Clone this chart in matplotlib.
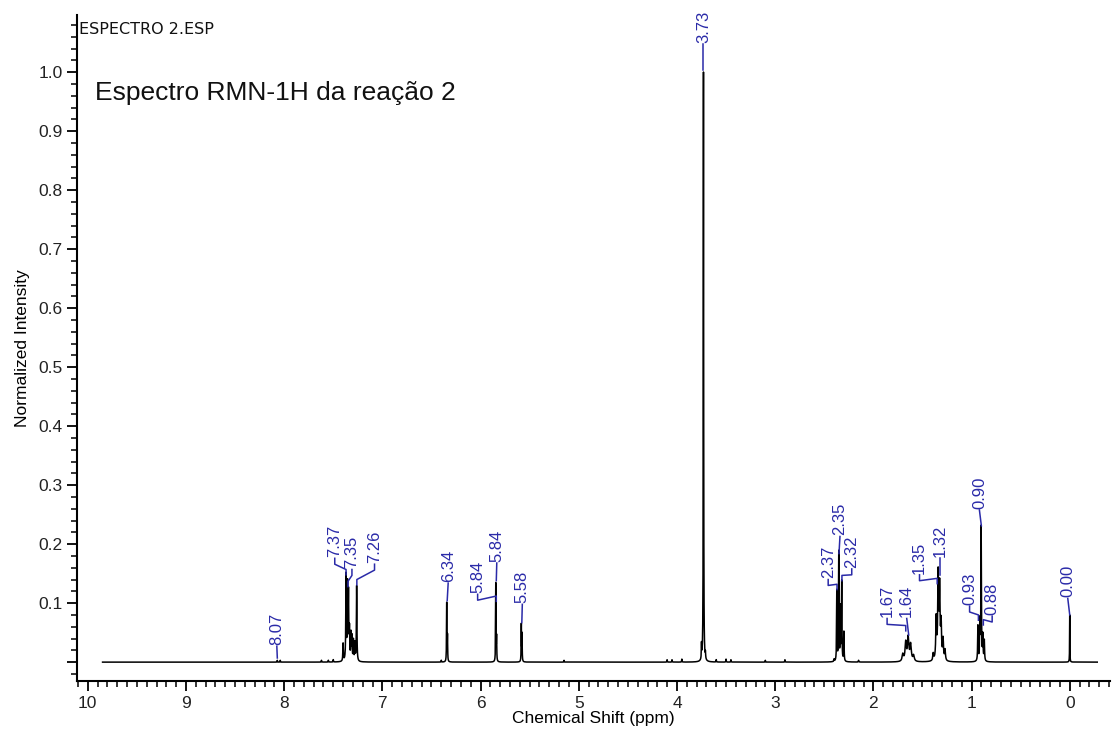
import matplotlib
matplotlib.use("Agg")
import matplotlib.pyplot as plt
import numpy as np
from matplotlib.ticker import MultipleLocator

# peak list (ppm, normalized height, half width in ppm)
peak_ppm = [8.07, 8.04, 7.62, 7.55, 7.50,
            7.40, 7.37, 7.355, 7.345, 7.335, 7.32, 7.31, 7.295, 7.28, 7.262,
            6.40, 6.345, 6.337, 5.845, 5.837, 5.585, 5.578, 5.15,
            4.10, 4.05, 3.95, 3.75, 3.73, 3.71, 3.60, 3.50, 3.45, 3.10, 2.90,
            2.40, 2.372, 2.352, 2.335, 2.322, 2.30, 2.15,
            1.70, 1.67, 1.645, 1.62, 1.59,
            1.39, 1.36, 1.34, 1.325, 1.31, 1.29, 1.27,
            0.935, 0.915, 0.902, 0.885, 0.87,
            0.0]
peak_height = [0.003, 0.003, 0.003, 0.003, 0.004,
               0.03, 0.145, 0.125, 0.11, 0.05, 0.045, 0.04, 0.035, 0.03, 0.128,
               0.003, 0.10, 0.043, 0.134, 0.04, 0.063, 0.046, 0.003,
               0.004, 0.004, 0.005, 0.025, 1.0, 0.01, 0.004, 0.005, 0.004, 0.003, 0.004,
               0.004, 0.12, 0.185, 0.09, 0.134, 0.05, 0.003,
               0.012, 0.032, 0.04, 0.028, 0.01,
               0.012, 0.07, 0.143, 0.12, 0.06, 0.035, 0.018,
               0.06, 0.065, 0.227, 0.042, 0.035,
               0.08]
peak_width = [0.002] * 5 + [0.003] * 10 + [0.002] * 8 + [0.002] * 11 + [0.0025] * 7 \
    + [0.008] * 5 + [0.005] * 7 + [0.003] * 5 + [0.0015]

# peak labels: text, peak position, label position, label bottom, leader end
label_text = ["8.07", "7.37", "7.35", "7.26", "6.34", "5.84", "5.84", "5.58", "3.73",
              "2.37", "2.35", "2.32", "1.67", "1.64", "1.35", "1.32", "0.93", "0.90",
              "0.88", "0.00"]
label_peak = [8.07, 7.37, 7.35, 7.26, 6.34, 5.84, 5.84, 5.58, 3.73,
              2.37, 2.35, 2.32, 1.67, 1.64, 1.35, 1.32, 0.93, 0.90, 0.88, 0.00]
label_x = [8.075, 7.485, 7.31, 7.08, 6.33, 6.03, 5.835, 5.575, 3.73,
           2.46, 2.34, 2.22, 1.86, 1.66, 1.53, 1.32, 1.02, 0.92, 0.79, 0.02]
label_y = [0.029, 0.178, 0.159, 0.168, 0.136, 0.117, 0.170, 0.100, 1.050,
           0.142, 0.215, 0.160, 0.076, 0.076, 0.150, 0.178, 0.097, 0.260, 0.080, 0.110]
leader_end = [0.003, 0.145, 0.125, 0.128, 0.100, 0.100, 0.134, 0.063, 1.0,
              0.120, 0.180, 0.135, 0.050, 0.042, 0.130, 0.144, 0.068, 0.227, 0.060, 0.076]

x = np.arange(-0.28, 9.85, 0.0004)
y = np.zeros_like(x)
for p, h, w in zip(peak_ppm, peak_height, peak_width):
    y += h * w**2 / ((x - p)**2 + w**2)

plt.rcParams['font.family'] = ['Liberation Sans', 'DejaVu Sans']
fig = plt.figure(figsize=(11.12, 7.31), dpi=100)
ax = fig.add_axes([77/1112, 1-681/731, (1110-77)/1112, (681-15)/731])
ax.plot(x, y, color='black', lw=1.1)

lab_col = '#2a2aa8'
for t, p, lx, ty, ye in zip(label_text, label_peak, label_x, label_y, leader_end):
    if abs(lx - p) < 0.03:
        ax.plot([lx, p], [ty - 0.002, ye + 0.004], color=lab_col, lw=1.1)
    else:
        ax.plot([lx, lx, p, p], [ty - 0.002, ty - 0.012, ye + 0.012, ye + 0.003],
                color=lab_col, lw=1.1)
    ax.text(lx, ty, t, rotation=90, ha='center', va='bottom', fontsize=12, color=lab_col)

ax.set_xlim(10.11, -0.41)
ax.set_ylim(-0.032, 1.097)
ax.xaxis.set_minor_locator(MultipleLocator(0.1))
ax.yaxis.set_minor_locator(MultipleLocator(0.02))
ax.set_yticks(np.arange(0, 1.01, 0.1))
ax.set_yticklabels([''] + ['%.1f' % v for v in np.arange(0.1, 1.01, 0.1)])
ax.set_xticks(range(0, 11))
ax.set_xticklabels([str(v) for v in range(0, 11)])
ax.tick_params(which='major', direction='out', length=7.5, width=1.3, labelsize=12.5,
               labelcolor='#222222', pad=3)
ax.tick_params(which='minor', direction='out', length=4.5, width=1.1)
for s in ['top', 'right']:
    ax.spines[s].set_visible(False)
for s in ['left', 'bottom']:
    ax.spines[s].set_linewidth(1.5)

ax.set_xlabel('Chemical Shift (ppm)', fontsize=12.5, labelpad=0)
ax.set_ylabel('Normalized Intensity', fontsize=12.5, labelpad=6)

fig.text(79/1112, 1-29/731, 'ESPECTRO 2.ESP', fontsize=11.5, va='center', ha='left',
         color='#111111', family='DejaVu Sans')
fig.text(95/1112, 1-93/731, 'Espectro RMN-1H da reação 2', fontsize=19,
         va='center', ha='left', color='#111111')

fig.savefig('out.png', dpi=100)
